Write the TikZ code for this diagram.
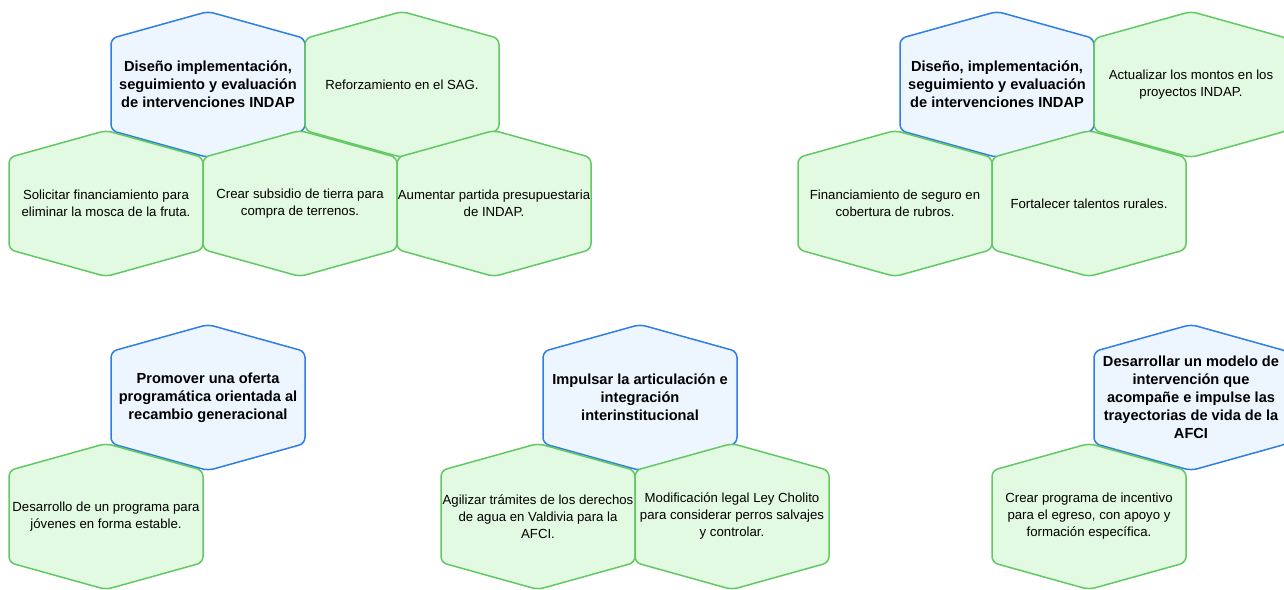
\documentclass[tikz,border=0pt]{standalone}
\usepackage{fontspec}
\setmainfont{Liberation Sans}
\usepackage{tikz}
\usetikzlibrary{positioning,calc}

\definecolor{hexblue}{HTML}{2F7DE6}
\definecolor{hexbluefill}{HTML}{EDF5FF}
\definecolor{hexgreen}{HTML}{62C962}
\definecolor{hexgreenfill}{HTML}{E2F9E2}

\tikzset{
    goal/.style = {draw=hexblue, fill=hexbluefill, line width=1.5pt, rounded corners=6pt},
    action/.style = {draw=hexgreen, fill=hexgreenfill, line width=1.5pt, rounded corners=6pt},
    goaltext/.style = {align=center, font=\fontsize{14.6}{18}\selectfont\bfseries, inner sep=0pt},
    actiontext/.style = {align=center, font=\fontsize{13.2}{17}\selectfont, inner sep=0pt}
}

% #1 look, #2 name, #3 x, #4 y, #5 text
\newcommand{\hexcell}[5]{%
    \draw[#1, shift={(#3,#4)}] (0,-73) -- (97,-46) -- (97,46) -- (0,73) -- (-97,46) -- (-97,-46) -- cycle;
    \node[#1text] (#2) at (#3,#4) {#5};
}

\begin{document}
\begin{tikzpicture}[x=1pt, y=-1pt]
    \useasboundingbox (0,0) rectangle (1284,589);

    % top left
    \hexcell{goal}{disenoA}{208}{84.5}{Diseño implementación,\\seguimiento y evaluación\\de intervenciones INDAP}
    \hexcell{action}{reforzamiento}{402}{84.5}{Reforzamiento en el SAG.}
    \hexcell{action}{solicitar}{106}{203.5}{Solicitar financiamiento para\\eliminar la mosca de la fruta.}
    \hexcell{action}{crearSubsidio}{300}{203.5}{Crear subsidio de tierra para\\compra de terrenos.}
    \hexcell{action}{aumentar}{494}{203.5}{Aumentar partida presupuestaria\\de INDAP.}

    % top right
    \hexcell{goal}{disenoB}{997}{84.5}{Diseño, implementación,\\seguimiento y evaluación\\de intervenciones INDAP}
    \hexcell{action}{actualizar}{1191}{84.5}{Actualizar los montos en los\\proyectos INDAP.}
    \hexcell{action}{financiamiento}{895}{203.5}{Financiamiento de seguro en\\cobertura de rubros.}
    \hexcell{action}{fortalecer}{1089}{203.5}{Fortalecer talentos rurales.}

    % bottom left
    \hexcell{goal}{promover}{208}{397.5}{Promover una oferta\\programática orientada al\\recambio generacional}
    \hexcell{action}{desarrollo}{106}{516.5}{Desarrollo de un programa para\\jóvenes en forma estable.}

    % bottom middle
    \hexcell{goal}{impulsar}{640}{397.5}{Impulsar la articulación e\\integración\\interinstitucional}
    \hexcell{action}{agilizar}{538}{516.5}{Agilizar trámites de los derechos\\de agua en Valdivia para la\\AFCI.}
    \hexcell{action}{modificacion}{732}{516.5}{Modificación legal Ley Cholito\\para considerar perros salvajes\\y controlar.}

    % bottom right
    \hexcell{goal}{desarrollar}{1191}{397.5}{Desarrollar un modelo de\\intervención que\\acompañe e impulse las\\trayectorias de vida de la\\AFCI}
    \hexcell{action}{crearPrograma}{1089}{516.5}{Crear programa de incentivo\\para el egreso, con apoyo y\\formación específica.}

\end{tikzpicture}
\end{document}
